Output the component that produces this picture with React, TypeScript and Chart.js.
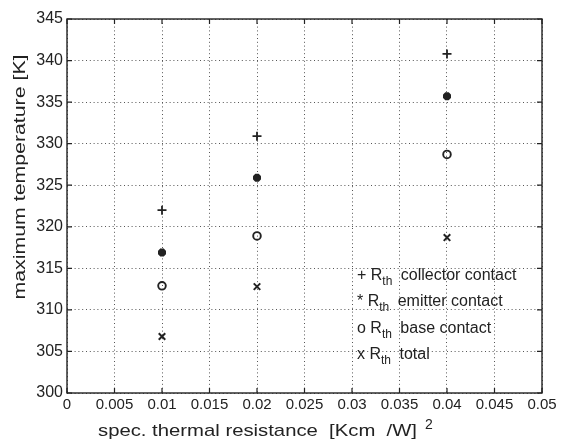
import React, { useEffect, useRef } from "react";
import { Chart, registerables } from "chart.js";

Chart.register(...registerables);

// ---- data ----
const xValues = [0.01, 0.02, 0.04];
const collectorTemps = [322, 330.9, 340.8];
const emitterTemps = [316.9, 325.9, 335.7];
const baseTemps = [312.9, 318.9, 328.7];
const totalTemps = [306.8, 312.8, 318.7];

const xTickLabels = ["0", "0.005", "0.01", "0.015", "0.02", "0.025", "0.03", "0.035", "0.04", "0.045", "0.05"];
const yTickLabels = ["300", "305", "310", "315", "320", "325", "330", "335", "340", "345"];

const legendSymbols = ["+", "*", "o", "x"];
const legendMain = ["R", "R", "R", "R"];
const legendSub = ["th", "th", "th", "th"];
const legendRest = [" collector contact", " emitter contact", " base contact", " total"];

const xTitle = "spec. thermal resistance  [Kcm  /W]";
const xTitleSup = "2";
const yTitle = "maximum temperature [K]";

const INK = "#222";
const FONT = "'Liberation Sans', Arial, Helvetica, sans-serif";

function stretchText(ctx: CanvasRenderingContext2D, text: string, target: number) {
  const w = ctx.measureText(text).width;
  return w > 0 ? target / w : 1;
}

const decorPlugin = {
  id: "decor",
  afterDraw(chart: any) {
    const ctx: CanvasRenderingContext2D = chart.ctx;
    const { left, right, top, bottom } = chart.chartArea;
    const xs = chart.scales.x;
    const ys = chart.scales.y;
    ctx.save();
    ctx.strokeStyle = INK;
    ctx.lineWidth = 1.4;
    ctx.strokeRect(left, top, right - left, bottom - top);
    // inward tick marks
    ctx.lineWidth = 1.2;
    const tl = 5;
    ctx.beginPath();
    xs.ticks.forEach((t: any) => {
      const px = xs.getPixelForValue(t.value);
      ctx.moveTo(px, bottom);
      ctx.lineTo(px, bottom - tl);
      ctx.moveTo(px, top);
      ctx.lineTo(px, top + tl);
    });
    ys.ticks.forEach((t: any) => {
      const py = ys.getPixelForValue(t.value);
      ctx.moveTo(left, py);
      ctx.lineTo(left + tl, py);
      ctx.moveTo(right, py);
      ctx.lineTo(right - tl, py);
    });
    ctx.stroke();

    // legend
    ctx.fillStyle = INK;
    ctx.textBaseline = "alphabetic";
    ctx.textAlign = "left";
    const lx = 357;
    const ly0 = 280;
    const dy = 26.3;
    for (let i = 0; i < legendSymbols.length; i++) {
      const y = ly0 + i * dy;
      ctx.font = `16px ${FONT}`;
      const head = legendSymbols[i] + " " + legendMain[i];
      ctx.fillText(head, lx, y);
      let x = lx + ctx.measureText(head).width;
      ctx.font = `12px ${FONT}`;
      ctx.fillText(legendSub[i], x, y + 5);
      x += ctx.measureText(legendSub[i]).width + 4;
      ctx.font = `16px ${FONT}`;
      ctx.fillText(legendRest[i], x, y);
    }

    // x title
    ctx.font = `17px ${FONT}`;
    ctx.textAlign = "left";
    ctx.textBaseline = "alphabetic";
    const sx = stretchText(ctx, xTitle, 319);
    ctx.save();
    ctx.translate(98, 436);
    ctx.scale(sx, 1);
    ctx.fillText(xTitle, 0, 0);
    ctx.restore();
    ctx.font = `14px ${FONT}`;
    ctx.fillText(xTitleSup, 425, 429);

    // y title
    ctx.font = `17px ${FONT}`;
    ctx.textAlign = "center";
    ctx.textBaseline = "middle";
    const sy = stretchText(ctx, yTitle, 245);
    ctx.save();
    ctx.translate(20, 177);
    ctx.rotate(-Math.PI / 2);
    ctx.scale(sy, 1);
    ctx.fillText(yTitle, 0, 0);
    ctx.restore();
    ctx.restore();
  },
};

function toPoints(vals: number[]) {
  return xValues.map((x, i) => ({ x, y: vals[i] }));
}

export default function App() {
  const ref = useRef<HTMLCanvasElement | null>(null);
  useEffect(() => {
    if (!ref.current) return;
    const common = { showLine: false, borderColor: INK, backgroundColor: INK };
    const chart = new Chart(ref.current, {
      type: "scatter",
      data: {
        datasets: [
          { ...common, label: "collector", data: toPoints(collectorTemps), pointStyle: "cross", pointRadius: 4.5, borderWidth: 1.8 },
          { ...common, label: "emitter", data: toPoints(emitterTemps), pointStyle: "star", pointRadius: 4, borderWidth: 3.2 },
          { ...common, label: "base", data: toPoints(baseTemps), pointStyle: "circle", pointRadius: 3.8, borderWidth: 1.9, backgroundColor: "rgba(0,0,0,0)" },
          { ...common, label: "total", data: toPoints(totalTemps), pointStyle: "crossRot", pointRadius: 4.6, borderWidth: 2 },
        ],
      },
      options: {
        responsive: false,
        animation: false,
        layout: { padding: { left: 0, top: 19, right: 21, bottom: 0 } },
        plugins: { legend: { display: false }, tooltip: { enabled: false }, title: { display: false } },
        scales: {
          x: {
            type: "linear",
            min: 0,
            max: 0.05,
            afterFit: (s: any) => { s.height = 51; },
            ticks: {
              stepSize: 0.005,
              color: INK,
              font: { family: FONT, size: 15 },
              padding: 3,
              maxRotation: 0,
              autoSkip: false,
              callback: (_v: any, i: number) => xTickLabels[i],
            },
            grid: { color: "#555", lineWidth: 1, drawTicks: false },
            border: { display: false, dash: [1, 2.8] },
          },
          y: {
            type: "linear",
            min: 300,
            max: 345,
            afterFit: (s: any) => { s.width = 67; },
            ticks: {
              stepSize: 5,
              color: INK,
              font: { family: FONT, size: 16 },
              padding: 4,
              autoSkip: false,
              callback: (_v: any, i: number) => yTickLabels[i],
            },
            grid: { color: "#555", lineWidth: 1, drawTicks: false },
            border: { display: false, dash: [1, 2.8] },
          },
        },
      },
      plugins: [decorPlugin],
    } as any);
    return () => chart.destroy();
  }, []);
  return (
    <div style={{ position: "fixed", left: 0, top: 0, width: 563, height: 444, background: "#fff" }}>
      <canvas ref={ref} width={563} height={444} />
    </div>
  );
}
